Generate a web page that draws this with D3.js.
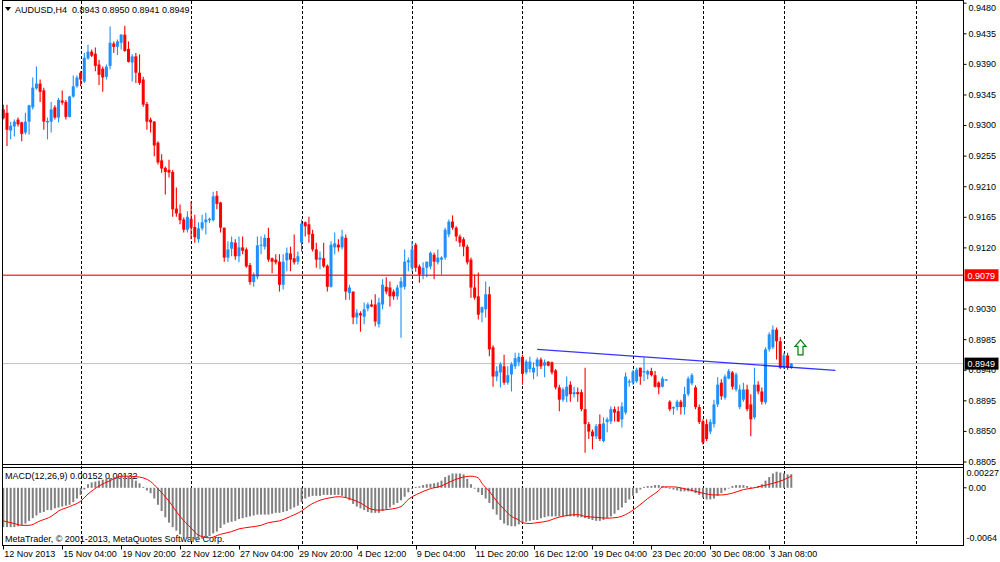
<html>
<head>
<meta charset="utf-8">
<title>AUDUSD H4</title>
<style>
    body { margin: 0; background: white; }
    svg { font-family: "Liberation Sans", Arial, sans-serif; font-size: 9px; }
    text { fill: black; }
</style>
<script src="https://cdn.jsdelivr.net/npm/d3@7"></script>
</head>
<body>
<script>
    // --- data (H4 bars, oldest first) ---
    var opens = [
        0.9323,0.9318,0.9292,0.9298,0.9308,0.9304,0.9289,0.9305,0.9326,0.9354,
        0.9361,0.9351,0.9304,0.9305,0.9326,0.9311,0.9336,0.9334,0.9312,0.9342,
        0.9357,0.9377,0.9364,0.9398,0.9408,0.9405,0.9389,0.9383,0.9371,0.9387,
        0.9420,0.9415,0.9421,0.9433,0.9412,0.9392,0.9401,0.9377,0.9367,0.9331,
        0.9308,0.9305,0.9274,0.9248,0.9237,0.9234,0.9231,0.9177,0.9170,0.9161,
        0.9146,0.9162,0.9150,0.9132,0.9148,0.9157,0.9160,0.9160,0.9196,0.9186,
        0.9149,0.9105,0.9118,0.9127,0.9107,0.9120,0.9117,0.9094,0.9069,0.9077,
        0.9123,0.9121,0.9134,0.9104,0.9102,0.9099,0.9065,0.9101,0.9111,0.9104,
        0.9099,0.9127,0.9157,0.9154,0.9140,0.9117,0.9102,0.9104,0.9093,0.9062,
        0.9120,0.9124,0.9120,0.9134,0.9053,0.9055,0.9017,0.9023,0.9018,0.9030,
        0.9036,0.9036,0.9007,0.9036,0.9062,0.9061,0.9055,0.9048,0.9061,0.9062,
        0.9098,0.9090,0.9124,0.9092,0.9080,0.9090,0.9092,0.9109,0.9098,0.9102,
        0.9105,0.9139,0.9158,0.9149,0.9136,0.9132,0.9121,0.9102,0.9061,0.9048,
        0.9024,0.9029,0.9051,0.8973,0.8930,0.8936,0.8945,0.8921,0.8933,0.8945,
        0.8951,0.8959,0.8936,0.8941,0.8936,0.8945,0.8955,0.8946,0.8952,0.8951,
        0.8939,0.8914,0.8896,0.8901,0.8918,0.8904,0.8907,0.8907,0.8882,0.8860,
        0.8849,0.8842,0.8860,0.8835,0.8863,0.8864,0.8882,0.8879,0.8867,0.8877,
        0.8921,0.8921,0.8923,0.8943,0.8936,0.8933,0.8938,0.8932,0.8921,0.8915,
        0.8924,0.8893,0.8883,0.8885,0.8893,0.8885,0.8904,0.8920,0.8914,0.8885,
        0.8864,0.8860,0.8849,0.8860,0.8889,0.8921,0.8899,0.8927,0.8936,0.8911,
        0.8885,0.8896,0.8911,0.8889,0.8870,0.8918,0.8908,0.8892,0.8970,0.8973,
        0.8999,0.8982,0.8943,0.8961,0.8943
    ];
    var highs = [
        0.9330,0.9330,0.9305,0.9308,0.9311,0.9305,0.9318,0.9330,0.9370,0.9386,
        0.9367,0.9355,0.9311,0.9334,0.9329,0.9340,0.9351,0.9337,0.9343,0.9373,
        0.9373,0.9379,0.9406,0.9418,0.9411,0.9414,0.9396,0.9386,0.9389,0.9445,
        0.9423,0.9426,0.9434,0.9446,0.9423,0.9404,0.9406,0.9404,0.9371,0.9334,
        0.9311,0.9306,0.9276,0.9257,0.9239,0.9249,0.9234,0.9208,0.9183,0.9164,
        0.9173,0.9187,0.9168,0.9157,0.9168,0.9171,0.9164,0.9202,0.9203,0.9187,
        0.9149,0.9129,0.9136,0.9132,0.9136,0.9136,0.9120,0.9097,0.9083,0.9136,
        0.9136,0.9139,0.9149,0.9105,0.9110,0.9110,0.9110,0.9120,0.9121,0.9139,
        0.9114,0.9161,0.9158,0.9165,0.9146,0.9127,0.9114,0.9127,0.9095,0.9129,
        0.9142,0.9132,0.9146,0.9139,0.9065,0.9055,0.9029,0.9026,0.9039,0.9039,
        0.9043,0.9051,0.9046,0.9073,0.9076,0.9070,0.9058,0.9065,0.9076,0.9117,
        0.9105,0.9129,0.9127,0.9095,0.9098,0.9099,0.9114,0.9112,0.9117,0.9107,
        0.9149,0.9161,0.9167,0.9151,0.9139,0.9135,0.9124,0.9105,0.9080,0.9083,
        0.9033,0.9070,0.9062,0.8976,0.8945,0.8951,0.8962,0.8945,0.8951,0.8965,
        0.8965,0.8962,0.8955,0.8959,0.8951,0.8958,0.8958,0.8955,0.8952,0.8952,
        0.8941,0.8918,0.8914,0.8930,0.8923,0.8915,0.8914,0.8911,0.8943,0.8863,
        0.8852,0.8860,0.8874,0.8870,0.8870,0.8886,0.8886,0.8886,0.8892,0.8936,
        0.8926,0.8940,0.8943,0.8943,0.8958,0.8940,0.8943,0.8938,0.8923,0.8930,
        0.8926,0.8895,0.8886,0.8896,0.8896,0.8915,0.8930,0.8935,0.8917,0.8889,
        0.8867,0.8867,0.8867,0.8896,0.8929,0.8926,0.8933,0.8941,0.8938,0.8936,
        0.8918,0.8921,0.8918,0.8904,0.8943,0.8923,0.8914,0.8973,0.8995,0.9005,
        0.9002,0.8988,0.8965,0.8965,0.8950
    ];
    var lows = [
        0.9308,0.9269,0.9279,0.9283,0.9298,0.9276,0.9286,0.9286,0.9323,0.9352,
        0.9334,0.9293,0.9279,0.9289,0.9308,0.9304,0.9330,0.9308,0.9311,0.9340,
        0.9355,0.9357,0.9362,0.9396,0.9400,0.9379,0.9359,0.9349,0.9367,0.9382,
        0.9406,0.9403,0.9411,0.9408,0.9392,0.9364,0.9362,0.9359,0.9327,0.9293,
        0.9289,0.9254,0.9242,0.9230,0.9198,0.9223,0.9165,0.9165,0.9154,0.9142,
        0.9142,0.9132,0.9127,0.9127,0.9145,0.9139,0.9156,0.9158,0.9176,0.9142,
        0.9099,0.9099,0.9107,0.9102,0.9098,0.9110,0.9090,0.9065,0.9062,0.9073,
        0.9110,0.9117,0.9099,0.9082,0.9095,0.9055,0.9058,0.9085,0.9085,0.9095,
        0.9095,0.9114,0.9136,0.9127,0.9114,0.9090,0.9088,0.9090,0.9055,0.9061,
        0.9110,0.9114,0.9117,0.9043,0.9043,0.9007,0.9007,0.8996,0.9007,0.9026,
        0.9032,0.9004,0.9002,0.9029,0.9051,0.9033,0.9043,0.9043,0.8987,0.9058,
        0.9085,0.9085,0.9084,0.9068,0.9073,0.9076,0.9088,0.9073,0.9095,0.9080,
        0.9102,0.9135,0.9146,0.9129,0.9121,0.9107,0.9095,0.9046,0.9043,0.9014,
        0.9010,0.9017,0.8960,0.8915,0.8923,0.8914,0.8918,0.8918,0.8908,0.8941,
        0.8945,0.8918,0.8933,0.8936,0.8926,0.8930,0.8941,0.8929,0.8945,0.8933,
        0.8911,0.8879,0.8893,0.8892,0.8893,0.8899,0.8893,0.8879,0.8818,0.8838,
        0.8823,0.8838,0.8835,0.8833,0.8848,0.8860,0.8864,0.8863,0.8855,0.8874,
        0.8915,0.8918,0.8921,0.8918,0.8923,0.8926,0.8930,0.8914,0.8904,0.8914,
        0.8924,0.8879,0.8874,0.8880,0.8874,0.8874,0.8901,0.8917,0.8882,0.8860,
        0.8830,0.8835,0.8845,0.8855,0.8885,0.8896,0.8896,0.8926,0.8911,0.8908,
        0.8882,0.8893,0.8879,0.8842,0.8867,0.8904,0.8889,0.8889,0.8967,0.8970,
        0.8955,0.8941,0.8941,0.8940,0.8941
    ];
    var closes = [
        0.9310,0.9293,0.9299,0.9305,0.9301,0.9287,0.9305,0.9329,0.9355,0.9361,
        0.9349,0.9305,0.9306,0.9323,0.9311,0.9337,0.9333,0.9312,0.9342,0.9357,
        0.9370,0.9367,0.9399,0.9408,0.9402,0.9387,0.9374,0.9370,0.9386,0.9421,
        0.9415,0.9423,0.9433,0.9409,0.9393,0.9401,0.9377,0.9362,0.9330,0.9305,
        0.9304,0.9270,0.9245,0.9236,0.9231,0.9230,0.9176,0.9170,0.9160,0.9146,
        0.9165,0.9149,0.9135,0.9148,0.9157,0.9161,0.9162,0.9195,0.9184,0.9149,
        0.9105,0.9117,0.9128,0.9107,0.9120,0.9115,0.9092,0.9069,0.9080,0.9123,
        0.9124,0.9134,0.9102,0.9099,0.9098,0.9065,0.9099,0.9112,0.9102,0.9098,
        0.9107,0.9155,0.9151,0.9139,0.9117,0.9102,0.9105,0.9092,0.9062,0.9124,
        0.9126,0.9120,0.9136,0.9055,0.9061,0.9017,0.9024,0.9020,0.9029,0.9036,
        0.9033,0.9011,0.9039,0.9065,0.9055,0.9048,0.9048,0.9061,0.9070,0.9099,
        0.9101,0.9117,0.9090,0.9080,0.9090,0.9099,0.9112,0.9099,0.9105,0.9105,
        0.9146,0.9158,0.9149,0.9136,0.9127,0.9121,0.9098,0.9061,0.9046,0.9021,
        0.9032,0.9051,0.8970,0.8930,0.8938,0.8948,0.8921,0.8932,0.8948,0.8957,
        0.8959,0.8934,0.8952,0.8952,0.8943,0.8955,0.8945,0.8951,0.8946,0.8936,
        0.8914,0.8896,0.8911,0.8915,0.8904,0.8907,0.8904,0.8882,0.8860,0.8849,
        0.8842,0.8857,0.8838,0.8861,0.8867,0.8882,0.8877,0.8864,0.8886,0.8930,
        0.8923,0.8937,0.8940,0.8930,0.8938,0.8938,0.8932,0.8915,0.8914,0.8927,
        0.8926,0.8882,0.8885,0.8893,0.8885,0.8904,0.8927,0.8932,0.8885,0.8863,
        0.8833,0.8838,0.8863,0.8889,0.8918,0.8901,0.8930,0.8938,0.8915,0.8933,
        0.8911,0.8911,0.8882,0.8867,0.8918,0.8908,0.8893,0.8970,0.8992,0.8999,
        0.8982,0.8943,0.8961,0.8943,0.8949
    ];

    // MACD(12,26,9) main line, one value per bar
    var macdMain = [
        -0.0044,-0.0044,-0.0044,-0.0044,-0.0043,-0.0042,-0.0040,-0.0037,-0.0034,-0.0031,
        -0.0028,-0.0027,-0.0025,-0.0025,-0.0023,-0.0022,-0.0021,-0.0020,-0.0019,-0.0016,
        -0.0012,-0.0008,-0.0002,0.0004,0.0006,0.0007,0.0008,0.0009,0.0010,0.0011,
        0.0012,0.0012,0.0013,0.0013,0.0013,0.0011,0.0008,0.0005,0.0001,-0.0003,
        -0.0006,-0.0012,-0.0019,-0.0026,-0.0033,-0.0039,-0.0044,-0.0048,-0.0052,-0.0055,
        -0.0057,-0.0058,-0.0058,-0.0058,-0.0057,-0.0056,-0.0054,-0.0051,-0.0049,-0.0045,
        -0.0041,-0.0039,-0.0038,-0.0037,-0.0035,-0.0034,-0.0033,-0.0032,-0.0031,-0.0030,
        -0.0030,-0.0030,-0.0030,-0.0029,-0.0028,-0.0028,-0.0027,-0.0026,-0.0024,-0.0022,
        -0.0020,-0.0016,-0.0012,-0.0010,-0.0009,-0.0009,-0.0009,-0.0008,-0.0008,-0.0008,
        -0.0008,-0.0008,-0.0009,-0.0011,-0.0014,-0.0018,-0.0021,-0.0023,-0.0025,-0.0027,
        -0.0028,-0.0028,-0.0028,-0.0026,-0.0024,-0.0022,-0.0019,-0.0017,-0.0014,-0.0010,
        -0.0005,-0.0001,0.0001,0.00015,0.0003,0.0004,0.00045,0.0005,0.0006,0.0008,
        0.0012,0.0014,0.0016,0.0016,0.0016,0.0015,0.0010,0.0004,-0.0001,-0.0005,
        -0.0008,-0.0012,-0.0017,-0.0024,-0.0030,-0.0036,-0.0040,-0.0042,-0.0043,-0.0043,
        -0.0041,-0.0039,-0.0038,-0.0037,-0.0036,-0.0036,-0.0034,-0.0033,-0.0032,-0.0032,
        -0.0032,-0.0032,-0.0032,-0.0032,-0.0032,-0.0032,-0.0033,-0.0033,-0.0034,-0.0035,
        -0.0036,-0.0037,-0.0037,-0.0036,-0.0034,-0.0032,-0.0029,-0.0025,-0.0022,-0.0017,
        -0.0013,-0.0009,-0.0006,-0.0002,0.0001,0.0002,0.0002,0.0003,0.0003,0.0002,
        0.0001,-0.0001,-0.0002,-0.0003,-0.0004,-0.0004,-0.0004,-0.0004,-0.0006,-0.0008,
        -0.0011,-0.0013,-0.0013,-0.0012,-0.0009,-0.0006,-0.0003,0.0000,0.0002,0.0003,
        0.0003,0.0003,0.0002,0.0001,0.0001,0.0002,0.0004,0.0008,0.0012,0.0016,
        0.0018,0.0017,0.0016,0.0015,0.00152
    ];
    // signal line, read at these bars
    var signalBars = [0,3,5,7,10,13,15,18,21,23,26,29,32,34,37,40,42,45,48,51,53,56,59,62,64,67,70,72,75,78,
        81,83,86,89,91,94,97,100,102,105,108,110,113,116,119,121,124,127,129,130,132,134,136,138,140,141,143,145,148,150,
        153,156,158,161,164,167,169,172,175,178,179,182,185,187,190,193,195,198,201,204,206,209,212,214];
    var signalValues = [-0.0037,-0.0040,-0.0042,-0.0042,-0.0037,-0.0032,-0.0026,-0.0021,-0.0015,-0.0007,
        0.0002,0.0008,0.0013,0.0013,0.0012,0.0007,-0.0001,-0.0015,-0.0032,-0.0045,
        -0.0053,-0.0056,-0.0052,-0.0049,-0.0046,-0.0044,-0.0042,-0.0039,-0.0037,-0.0032,
        -0.0026,-0.0020,-0.0014,-0.0011,-0.0010,-0.0012,-0.0017,-0.0024,-0.0025,-0.0024,
        -0.0021,-0.0013,-0.0006,-0.0001,0.0002,0.0006,0.0011,0.0013,0.0011,0.0005,
        -0.0004,-0.0015,-0.0024,-0.0032,-0.0036,-0.0039,-0.0040,-0.0039,-0.0037,-0.0034,
        -0.0031,-0.0030,-0.0032,-0.0033,-0.0034,-0.0033,-0.0030,-0.0022,-0.0012,-0.0003,
        0.0001,0.0001,-0.0001,-0.0003,-0.0006,-0.0008,-0.0008,-0.0006,-0.0002,0.0000,
        0.0002,0.0005,0.0009,0.00132];

    // axis labels (0.9075 is hidden behind the level tag in the original)
    var priceTicks = [0.9480,0.9435,0.9390,0.9345,0.9300,0.9255,0.9210,0.9165,0.9120,
        0.9030,0.8985,0.8940,0.8895,0.8850,0.8805];
    var macdTicks = [0.00227, 0, -0.0064];
    var macdTickLabels = ['0.00227', '0.00', '-0.0064'];
    var dateBars = [0,16,32,48,64,80,96,112,128,144,160,176,192,208];
    var dateLabels = ['12 Nov 2013','15 Nov 04:00','19 Nov 20:00','22 Nov 12:00','27 Nov 04:00',
        '29 Nov 20:00','4 Dec 12:00','9 Dec 04:00','11 Dec 20:00','16 Dec 12:00','19 Dec 04:00',
        '23 Dec 20:00','30 Dec 08:00','3 Jan 08:00'];
    var weekStarts = [21,51,81,111,141,171,190,212,248];

    // objects on the chart
    var levelPrice = 0.9079;
    var bidPrice = closes[closes.length - 1];
    var trendBars = [145, 226];
    var trendPrices = [0.8970, 0.8939];

    var fmt4 = d3.format('.4f'), fmt5 = d3.format('.5f');
    var bars = d3.range(opens.length).map(function(i) {
        return { i: i, o: opens[i], h: highs[i], l: lows[i], c: closes[i] };
    });

    var svg = d3.select('body').append('svg')
        .attr('width', 1000)
        .attr('height', 562);

    var x  = d3.scaleLinear().domain([0, 214]).range([3.3, 791.3]);
    var y  = d3.scaleLinear().domain([0.8805, 0.9480]).range([461.5, 2.7]);
    var ym = d3.scaleLinear().domain([-0.0064, 0.00227]).range([545, 467.5]);

    var left = 2, right = 963.5;

    // week separators
    svg.append('g').selectAll('line').data(weekStarts).enter().append('line')
        .attr('x1', function(d) { return Math.round(x(d)) + 0.5; })
        .attr('x2', function(d) { return Math.round(x(d)) + 0.5; })
        .attr('y1', 1).attr('y2', 545)
        .attr('stroke', 'black')
        .attr('stroke-dasharray', '3,2');

    // bid line
    svg.append('line')
        .attr('x1', left).attr('x2', right)
        .attr('y1', y(bidPrice)).attr('y2', y(bidPrice))
        .attr('stroke', '#c0c0c0');

    // candles
    var candles = svg.append('g').selectAll('g').data(bars).enter().append('g')
        .attr('fill', function(d) { return d.c >= d.o ? '#1e90ff' : '#ff0000'; })
        .attr('stroke', function(d) { return d.c >= d.o ? '#1e90ff' : '#ff0000'; });
    candles.append('line')
        .attr('x1', function(d) { return x(d.i); })
        .attr('x2', function(d) { return x(d.i); })
        .attr('y1', function(d) { return y(d.h); })
        .attr('y2', function(d) { return y(d.l); })
        .attr('stroke-width', 1.1);
    candles.append('rect')
        .attr('x', function(d) { return x(d.i) - 1.5; })
        .attr('width', 3)
        .attr('y', function(d) { return y(Math.max(d.o, d.c)); })
        .attr('height', function(d) { return Math.max(1, Math.abs(y(d.o) - y(d.c))); })
        .attr('stroke', 'none');

    // horizontal level
    svg.append('line')
        .attr('x1', left).attr('x2', right)
        .attr('y1', y(levelPrice)).attr('y2', y(levelPrice))
        .attr('stroke', '#ff0000')
        .attr('stroke-opacity', 0.75)
        .attr('stroke-width', 1.6);

    // trendline
    svg.append('line')
        .attr('x1', x(trendBars[0])).attr('y1', y(trendPrices[0]))
        .attr('x2', x(trendBars[1])).attr('y2', y(trendPrices[1]))
        .attr('stroke', '#0000ff')
        .attr('stroke-opacity', 0.8)
        .attr('stroke-width', 1.4);

    // green arrow
    var ax = x(216.5), aTop = y(0.8984), aBot = y(0.8962);
    svg.append('path')
        .attr('d', 'M' + ax + ',' + aTop + ' L' + (ax + 5.5) + ',' + (aTop + 6.5) + ' L' + (ax + 2.5) + ',' + (aTop + 6.5) +
            ' L' + (ax + 2.5) + ',' + aBot + ' L' + (ax - 2.5) + ',' + aBot + ' L' + (ax - 2.5) + ',' + (aTop + 6.5) +
            ' L' + (ax - 5.5) + ',' + (aTop + 6.5) + ' Z')
        .attr('fill', 'white')
        .attr('stroke', '#008000')
        .attr('stroke-width', 1.2);

    // MACD panel texts (bars drawn over them)
    svg.append('text').attr('x', 5).attr('y', 478.5)
        .style('white-space', 'pre')
        .text('MACD(12,26,9) ' + fmt5(macdMain[macdMain.length - 1]) + ' ' + fmt5(signalValues[signalValues.length - 1]));
    svg.append('text').attr('x', 5).attr('y', 541.5)
        .text('MetaTrader, \u00a9 2001-2013, MetaQuotes Software Corp.');

    svg.append('g').selectAll('rect').data(macdMain).enter().append('rect')
        .attr('x', function(d, i) { return x(i) - 1; })
        .attr('width', 2)
        .attr('y', function(d) { return Math.min(ym(0), ym(d)); })
        .attr('height', function(d) { return Math.max(0.8, Math.abs(ym(d) - ym(0))); })
        .attr('fill', '#808080');

    var signal = d3.line()
        .x(function(d, k) { return x(signalBars[k]); })
        .y(function(d) { return ym(d); })
        .curve(d3.curveMonotoneX);
    svg.append('path')
        .attr('d', signal(signalValues))
        .attr('fill', 'none')
        .attr('stroke', '#ff0000')
        .attr('stroke-width', 1);

    // frames
    var frame = svg.append('g').attr('stroke', 'black').attr('stroke-width', 1);
    frame.append('line').attr('x1', left).attr('x2', right).attr('y1', 0.5).attr('y2', 0.5);
    frame.append('line').attr('x1', left).attr('x2', right).attr('y1', 464.5).attr('y2', 464.5);
    frame.append('line').attr('x1', left).attr('x2', right).attr('y1', 467.5).attr('y2', 467.5);
    frame.append('line').attr('x1', left).attr('x2', right).attr('y1', 545.5).attr('y2', 545.5);
    frame.append('line').attr('x1', left + 0.5).attr('x2', left + 0.5).attr('y1', 0).attr('y2', 546);
    frame.append('line').attr('x1', right).attr('x2', right).attr('y1', 0).attr('y2', 546);

    // price axis
    var priceAxis = svg.append('g')
        .attr('transform', 'translate(' + right + ',0)')
        .call(d3.axisRight(y).tickValues(priceTicks).tickFormat(fmt4).tickSize(3).tickPadding(2));
    priceAxis.select('.domain').remove();
    priceAxis.selectAll('text').attr('font-family', 'Liberation Sans, Arial').attr('font-size', 9).attr('fill', 'black');
    priceAxis.selectAll('line').attr('stroke', 'black');
    // keep the top label inside the picture
    priceAxis.selectAll('.tick').filter(function(d) { return y(d) < 6; })
        .select('text').attr('dy', '0.9em');

    // macd axis
    var macdAxis = svg.append('g').attr('transform', 'translate(' + right + ',0)');
    macdAxis.selectAll('line').data([0]).enter().append('line')
        .attr('x1', 0).attr('x2', 3)
        .attr('y1', function(d) { return ym(d); }).attr('y2', function(d) { return ym(d); })
        .attr('stroke', 'black');
    macdAxis.selectAll('text').data(macdTicks).enter().append('text')
        .attr('x', function(d) { return d === 0 ? 5 : 3; })
        .attr('y', function(d, i) { return i === 0 ? ym(d) + 8.5 : (i === 2 ? ym(d) - 4 : ym(d) + 3.3); })
        .text(function(d, i) { return macdTickLabels[i]; });

    // level labels on the price axis
    function priceTag(price, bg) {
        var g = svg.append('g').attr('transform', 'translate(' + right + ',' + y(price) + ')');
        g.append('rect').attr('x', 1).attr('y', -6).attr('width', 34).attr('height', 12).attr('fill', bg);
        g.append('text').attr('x', 4).attr('y', 3.3).style('fill', 'white').text(fmt4(price));
    }
    priceTag(levelPrice, '#ff0000');
    priceTag(bidPrice, 'black');

    // time axis
    var timeAxis = svg.append('g').attr('transform', 'translate(0,545.5)');
    timeAxis.selectAll('line').data(dateBars).enter().append('line')
        .attr('x1', function(d) { return Math.round(x(d)) + 0.5; })
        .attr('x2', function(d) { return Math.round(x(d)) + 0.5; })
        .attr('y1', 0).attr('y2', 4)
        .attr('stroke', 'black');
    timeAxis.selectAll('text').data(dateBars).enter().append('text')
        .attr('x', function(d) { return x(d) + 1; })
        .attr('y', 11.5)
        .text(function(d, i) { return dateLabels[i]; });

    // title
    var last = bars[bars.length - 1];
    svg.append('path').attr('d', 'M5,7 L11,7 L8,11 Z').attr('fill', 'black');
    svg.append('text').attr('x', 15).attr('y', 12.5)
        .style('white-space', 'pre')
        .text('AUDUSD,H4  ' + [last.o, last.h, last.l, last.c].map(fmt4).join(' '));
</script>
</body>
</html>
